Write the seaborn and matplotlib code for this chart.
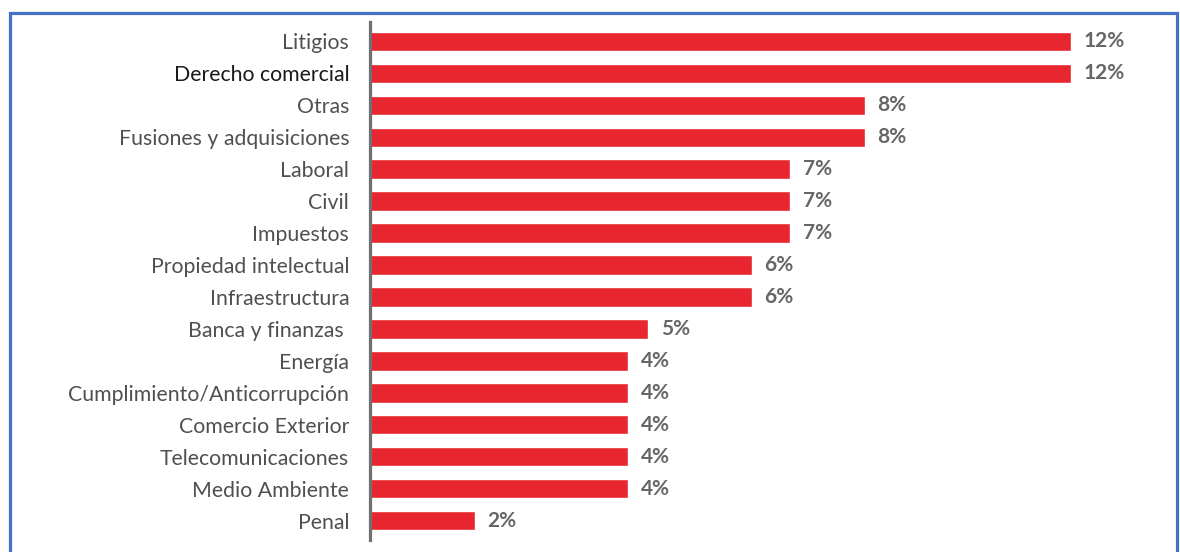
import matplotlib
matplotlib.use("Agg")
import matplotlib.pyplot as plt
import seaborn as sns
import pandas as pd
from matplotlib.patches import Rectangle

categories = ["Litigios", "Derecho comercial", "Otras", "Fusiones y adquisiciones",
              "Laboral", "Civil", "Impuestos", "Propiedad intelectual", "Infraestructura",
              "Banca y finanzas ", "Energía", "Cumplimiento/Anticorrupción",
              "Comercio Exterior", "Telecomunicaciones", "Medio Ambiente", "Penal"]
values = [12.0, 12.0, 8.47, 8.47, 7.19, 7.19, 7.19, 6.54, 6.54, 4.76, 4.42, 4.42,
          4.42, 4.42, 4.42, 1.80]
value_labels = ["12%", "12%", "8%", "8%", "7%", "7%", "7%", "6%", "6%", "5%",
                "4%", "4%", "4%", "4%", "4%", "2%"]

df = pd.DataFrame({"cat": categories, "val": values})

sns.set_style("white")
plt.rcParams["font.family"] = ["Lato", "DejaVu Sans"]

W, H = 1180, 552
fig = plt.figure(figsize=(W / 100, H / 100), dpi=100)
ax = fig.add_axes([370 / W, 1 - 540 / H, (W - 370) / W, (540 - 22) / H])

sns.barplot(data=df, x="val", y="cat", orient="h", color="#E8262F",
            saturation=1, width=0.6, ax=ax)

ax.set_xlim(0, 810 / 58.42)
ax.set_ylim(len(categories) - 1 + 0.6, -0.6)
ax.set_xlabel("")
ax.set_ylabel("")
ax.set_xticks([])
for s in ["top", "right", "bottom"]:
    ax.spines[s].set_visible(False)
ax.spines["left"].set_color("#707070")
ax.spines["left"].set_linewidth(2.3)
ax.tick_params(axis="y", length=0, pad=15, labelsize=15.3, labelcolor="#505050")
for lbl in ax.get_yticklabels():
    if lbl.get_text() == "Derecho comercial":
        lbl.set_color("#1a1a1a")

for i, (v, t) in enumerate(zip(values, value_labels)):
    ax.annotate(t, xy=(v, i), xytext=(9, 0), textcoords="offset points",
                va="center", ha="left", fontsize=15, fontweight="bold",
                color="#666666")

border = Rectangle((10 / W, -0.1), (1177 - 10) / W, 1 - 13 / H + 0.1,
                   transform=fig.transFigure, fill=False, edgecolor="#4472C4",
                   linewidth=2.3, clip_on=False)
fig.patches.append(border)

fig.savefig("out.png", dpi=100)
